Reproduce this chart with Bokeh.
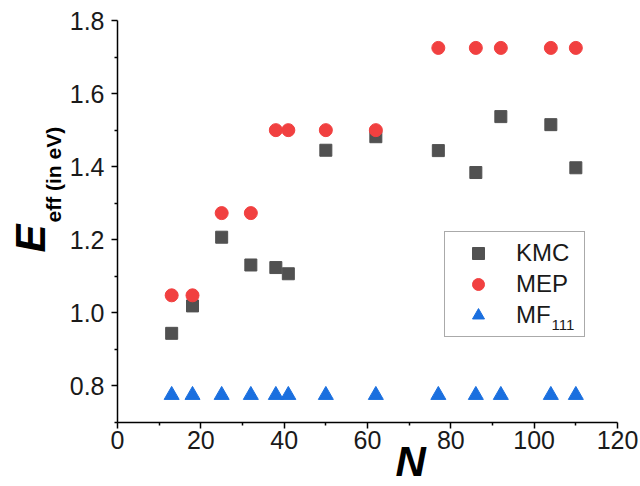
import math
from bokeh.plotting import figure
from bokeh.models import (FixedTicker, Legend, LegendItem, Label, Range1d,
                          PrintfTickFormatter)
from bokeh.embed import file_html
from bokeh.resources import INLINE

# ---- data ----
n_sizes = [13, 18, 25, 32, 38, 41, 50, 62, 77, 86, 92, 104, 110]
kmc = [0.944, 1.019, 1.207, 1.131, 1.124, 1.107, 1.445, 1.482, 1.444, 1.384, 1.537, 1.515, 1.397]
mep = [1.048, 1.048, 1.273, 1.273, 1.500, 1.500, 1.500, 1.500, 1.725, 1.725, 1.725, 1.725, 1.725]
mf111 = [0.775, 0.775, 0.775, 0.775, 0.775, 0.775, 0.775, 0.775, 0.775, 0.775, 0.775, 0.775, 0.775]

x_major = [0, 20, 40, 60, 80, 100, 120]
x_minor = [10, 30, 50, 70, 90, 110]
y_major = [0.8, 1.0, 1.2, 1.4, 1.6, 1.8]
y_minor = [0.7, 0.9, 1.1, 1.3, 1.5, 1.7]
x_axis_span = (0, 120)
y_axis_span = (0.7, 1.8)

FONT = "Liberation Sans"
TXT = "#1a1a1a"
W, H = 640, 486

# The plotting frame covers the whole canvas; the axes are pinned at the
# data origin of the reference chart so that the titles can sit beside them.
px_x = 500.0 / 120.0          # pixels per x unit
px_y = 402.0 / 1.1            # pixels per y unit
x0 = 0 - 117 / px_x
x1 = 120 + (W - 617) / px_x
y0 = 0.7 - (H - 422) / px_y
y1 = 1.8 + 20 / px_y

p = figure(width=W, height=H, output_backend="svg", toolbar_location=None,
           x_range=Range1d(x0, x1), y_range=Range1d(y0, y1),
           min_border_left=0, min_border_right=0,
           min_border_top=0, min_border_bottom=0)
p.outline_line_color = None
p.xgrid.grid_line_color = None
p.ygrid.grid_line_color = None
p.background_fill_color = "white"
p.border_fill_color = "white"

p.xaxis.fixed_location = y_axis_span[0]
p.yaxis.fixed_location = x_axis_span[0]
p.xaxis.bounds = x_axis_span
p.yaxis.bounds = y_axis_span
p.xaxis.ticker = FixedTicker(ticks=x_major, minor_ticks=x_minor)
p.yaxis.ticker = FixedTicker(ticks=y_major, minor_ticks=y_minor)
p.yaxis.formatter = PrintfTickFormatter(format="%.1f")
for ax in (p.xaxis, p.yaxis):
    ax.axis_line_color = "black"
    ax.axis_line_width = 1.5
    ax.major_tick_line_color = "black"
    ax.major_tick_line_width = 1.5
    ax.minor_tick_line_color = "black"
    ax.minor_tick_line_width = 1.5
    ax.major_tick_in = 0
    ax.minor_tick_in = 0
    ax.major_tick_out = 6
    ax.minor_tick_out = 3
    ax.major_label_text_font = FONT
    ax.major_label_text_font_size = "25px"
    ax.major_label_text_color = TXT
p.xaxis.major_label_standoff = 2
p.yaxis.major_label_standoff = 7

r_kmc = p.scatter(n_sizes, kmc, marker="square", size=12,
                  fill_color="#515151", line_color="#515151")
r_mep = p.scatter(n_sizes, mep, marker="circle", size=13,
                  fill_color="#F14040", line_color="#F14040")
r_mf = p.scatter(n_sizes, mf111, marker="triangle", size=15,
                 fill_color="#1A6FDF", line_color="#1A6FDF")

legend = Legend(items=[LegendItem(label="KMC", renderers=[r_kmc]),
                       LegendItem(label="MEP", renderers=[r_mep]),
                       LegendItem(label="MF", renderers=[r_mf])],
                location=(444, H - 337), glyph_width=54, glyph_height=30,
                label_height=30, label_width=62, label_standoff=11,
                padding=6, spacing=1, margin=0,
                border_line_color="#555555", border_line_width=1,
                background_fill_alpha=0,
                label_text_font=FONT, label_text_font_size="24px",
                label_text_color=TXT)
p.add_layout(legend)

def mid(baseline, size):
    # distance from the alphabetic baseline to the centre of the text box
    return baseline - 0.3465 * size

# subscript of MF
p.add_layout(Label(x=551, y=H - mid(330, 15), x_units="screen", y_units="screen", text="111",
                   text_font=FONT, text_font_size="15px", text_color=TXT,
                   text_baseline="middle", text_align="left", level="overlay"))

# y axis title: E_eff (in eV)
p.add_layout(Label(x=mid(45, 42), y=H - 252, x_units="screen", y_units="screen", text="E",
                   angle=math.pi / 2, text_font=FONT, text_font_size="42px",
                   text_font_style="bold italic", text_color="black",
                   text_baseline="middle", text_align="left"))
p.add_layout(Label(x=mid(60, 21), y=H - 222, x_units="screen", y_units="screen", text="eff (in eV)",
                   angle=math.pi / 2, text_font=FONT, text_font_size="21px",
                   text_font_style="bold", text_color="black",
                   text_baseline="middle", text_align="left"))
# x axis title: N
p.add_layout(Label(x=395, y=H - mid(476, 42), x_units="screen", y_units="screen", text="N",
                   text_font=FONT, text_font_size="42px",
                   text_font_style="bold italic", text_color="black",
                   text_baseline="middle", text_align="left"))

open("out.html", "w").write(file_html(p, INLINE))
